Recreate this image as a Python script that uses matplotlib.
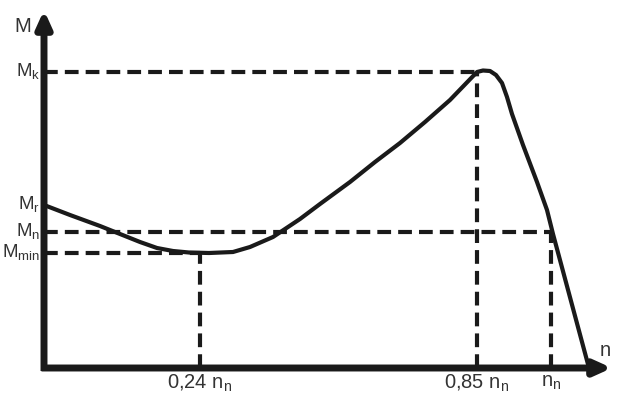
import matplotlib
matplotlib.use('Agg')
import matplotlib.pyplot as plt
import numpy as np

plt.rcParams['font.family'] = 'Liberation Sans'
plt.rcParams['mathtext.fontset'] = 'custom'
plt.rcParams['mathtext.rm'] = 'Liberation Sans'
plt.rcParams['mathtext.it'] = 'Liberation Sans'

# torque-speed curve (schematic units)
n_curve = [0, 26, 56, 76, 96, 113, 129, 145, 165, 189, 206, 229, 256, 276, 306, 331, 356, 381, 406, 433,
           439, 446, 452, 458, 463, 468, 479, 493, 503, 509, 545]
M_curve = [163, 153, 142, 134, 126, 120, 117, 115.5, 115, 116, 121, 131, 149, 164, 186, 206, 225, 246, 268, 296,
           297.5, 297, 293, 285, 271, 254, 223, 186, 158, 134, 0]

# characteristic points
n_marks = [156, 433, 507]
n_tops = [115, 296, 136]
n_labels = ['0,24 n$_\\mathrm{n}$', '0,85 n$_\\mathrm{n}$', 'n$_\\mathrm{n}$']
M_levels = [296, 163, 136, 115]
M_labels = ['M$_\\mathrm{k}$', 'M$_\\mathrm{r}$', 'M$_\\mathrm{n}$', 'M$_\\mathrm{min}$']
M_ends = [433, None, 507, 156]  # where horizontal guide stops

fig = plt.figure(figsize=(6.18, 3.97), dpi=100)
ax = fig.add_axes([0, 0, 1, 1])
ax.set_xlim(-44, 574)
ax.set_ylim(-29, 368)
ax.axis('off')

col = '#1a1a1a'
dash = (0, (3.3, 1.7))
# horizontal guides
for lev, end in zip(M_levels, M_ends):
    if end is not None:
        ax.plot([0, end], [lev, lev], color=col, lw=3, linestyle=dash)
# vertical guides
for xm, top in zip(n_marks, n_tops):
    ax.plot([xm, xm], [0, top], color=col, lw=3, linestyle=dash)

ax.plot(n_curve, M_curve, color=col, lw=3, solid_joinstyle='round', solid_capstyle='round')

# axes with arrows
arrow = dict(arrowstyle='-|>,head_length=1.0,head_width=0.45', lw=5, color=col,
             shrinkA=0, shrinkB=0, capstyle='butt')
ax.annotate('', xy=(0, 358), xytext=(0, -3), arrowprops=arrow)
ax.annotate('', xy=(568, 0), xytext=(-2.5, 0), arrowprops=arrow)

ax.text(-21, 342, 'M', fontsize=14.5, ha='center', va='center', color='#333333')
ax.text(561, 18, 'n', fontsize=14.5, ha='center', va='center', color='#333333')

for lev, lab in zip(M_levels, M_labels):
    ax.text(-4, lev + 1, lab, fontsize=13.5, ha='right', va='center', color='#333333')

for xm, lab in zip(n_marks, n_labels):
    ax.text(xm, -15, lab, fontsize=14.5, ha='center', va='center', color='#333333')

fig.savefig('out.png', dpi=100)
